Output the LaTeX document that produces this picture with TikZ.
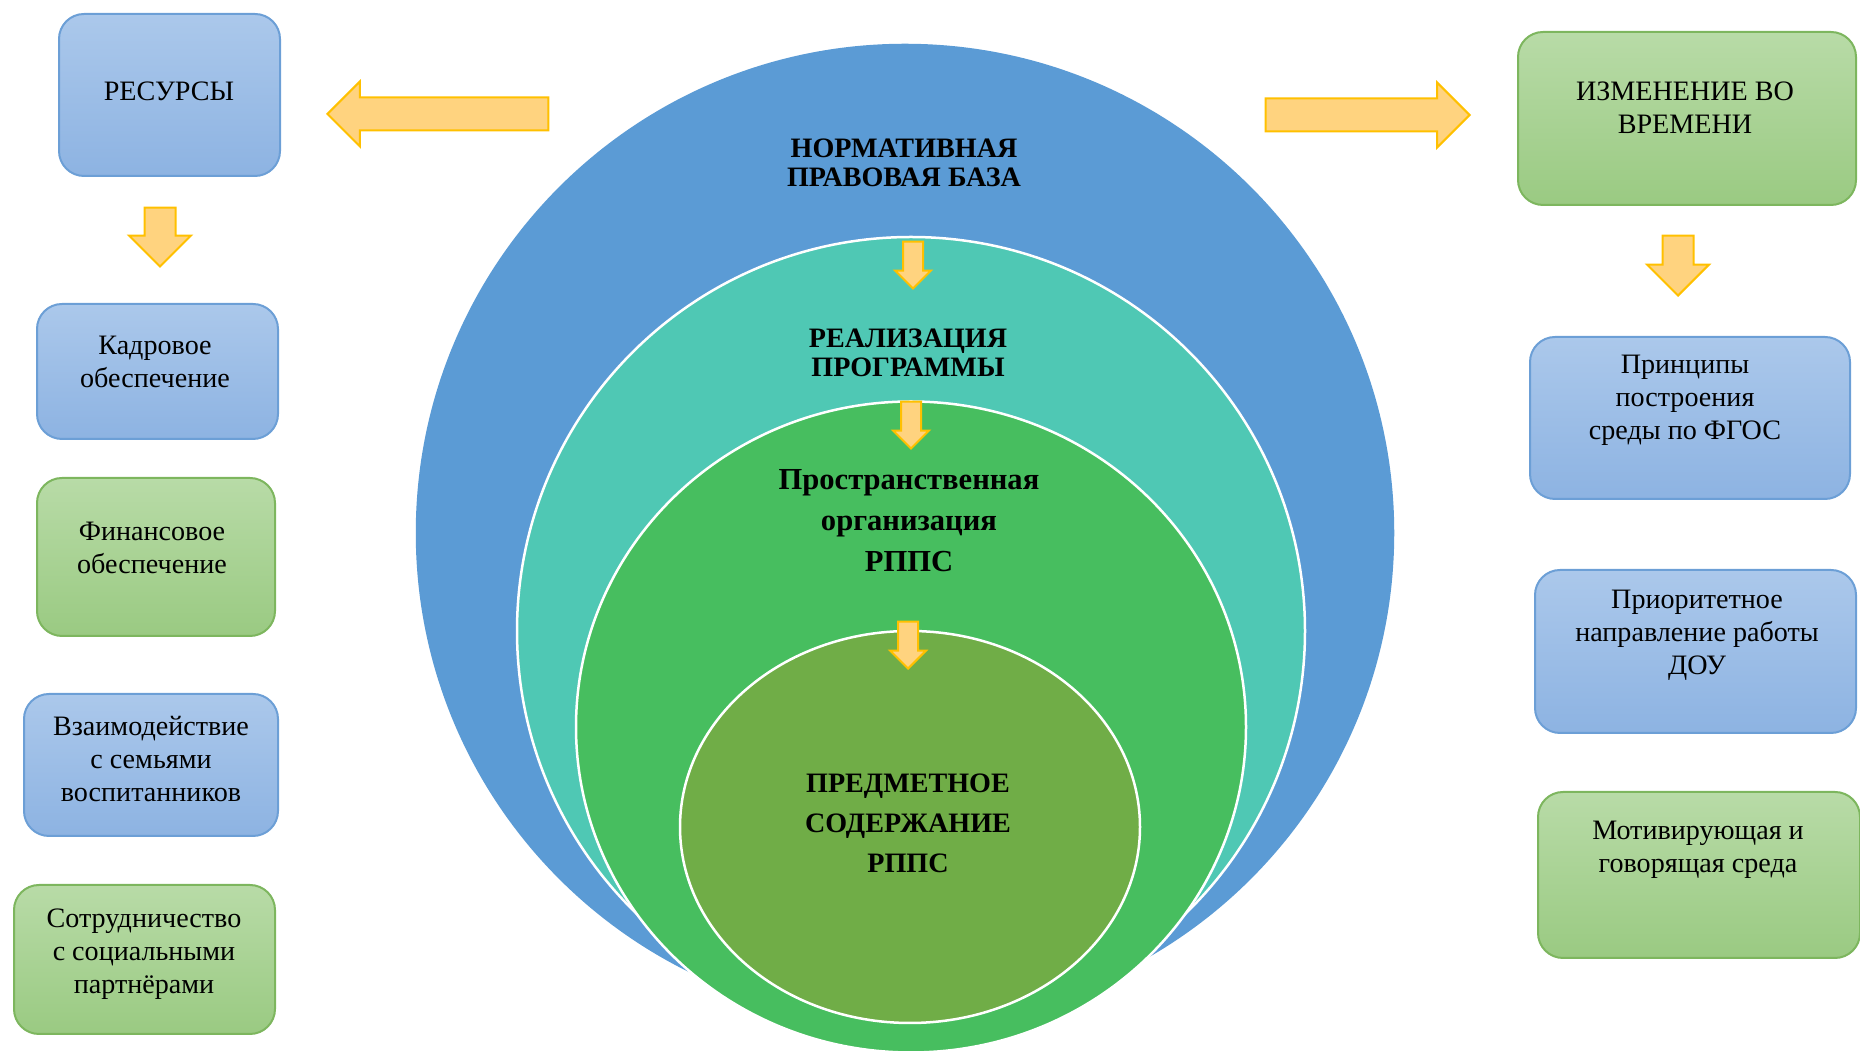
\documentclass[tikz,border=0pt]{standalone}
\usepackage{fontspec}
\setmainfont{Liberation Serif}
\usetikzlibrary{shapes.geometric,shapes.arrows}

\definecolor{blueouter}{HTML}{5B9BD5}
\definecolor{tealmid}{HTML}{4FC8B4}
\definecolor{greenin}{HTML}{47BE5F}
\definecolor{olivecore}{HTML}{70AD47}
\definecolor{arrowfill}{HTML}{FFD37F}
\definecolor{arrowline}{HTML}{FFC000}
\definecolor{bboxtop}{HTML}{ABC8EB}
\definecolor{bboxbot}{HTML}{8DB3E2}
\definecolor{bboxline}{HTML}{6C9FD6}
\definecolor{gboxtop}{HTML}{B8DBA7}
\definecolor{gboxbot}{HTML}{9ACA82}
\definecolor{gboxline}{HTML}{7DB65E}

\begin{document}
\begin{tikzpicture}[x=0.1mm,y=-0.1mm]
  \tikzstyle{ring}=[ellipse,draw=white,line width=0.25mm,inner sep=0pt]
  \tikzstyle{bluebox}=[rectangle,rounded corners=2.5mm,draw=bboxline,line width=0.2mm,top color=bboxtop,bottom color=bboxbot]
  \tikzstyle{greenbox}=[rectangle,rounded corners=2.5mm,draw=gboxline,line width=0.2mm,top color=gboxtop,bottom color=gboxbot]
  \tikzstyle{boxtext}=[align=center,inner sep=0pt,font=\fontsize{8}{9.4}\selectfont]
  \tikzstyle{ringtext}=[align=center,inner sep=0pt,font=\bfseries\fontsize{8}{8.3}\selectfont]
  \tikzstyle{bigarrow}=[single arrow,draw=arrowline,fill=arrowfill,line width=0.2mm,inner sep=0pt,text height=3.1mm,text depth=0pt,single arrow head extend=1.6mm,anchor=tip]
  \tikzstyle{smallarrow}=[bigarrow,text height=1.8mm,single arrow head extend=0.8mm,minimum height=4.7mm,rotate=-90]

  \useasboundingbox (0,0) rectangle (1860,1054);

  % nested circles
  \node[ring,draw=blueouter,fill=blueouter,minimum width=97.6mm,minimum height=97.6mm] (base) at (905,533) {};
  \node[ring,fill=tealmid,minimum width=78.8mm,minimum height=78.8mm] (prog) at (911,631) {};
  \node[ring,fill=greenin,minimum width=67mm,minimum height=65.1mm] (space) at (911,727) {};
  \node[ring,fill=olivecore,minimum width=46mm,minimum height=39.2mm] (core) at (910,827) {};

  \node[ringtext] (basetxt) at (904,163) {НОРМАТИВНАЯ\\ПРАВОВАЯ БАЗА};
  \node[ringtext] (progtxt) at (908,353) {РЕАЛИЗАЦИЯ\\ПРОГРАММЫ};
  \node[ringtext,font=\bfseries\fontsize{8.7}{11.7}\selectfont] (spacetxt) at (909,521) {Пространственная\\организация\\РППС};
  \node[ringtext,font=\bfseries\fontsize{8}{11.4}\selectfont] (coretxt) at (908,823) {ПРЕДМЕТНОЕ\\СОДЕРЖАНИЕ\\РППС};

  \node[smallarrow] (down1) at (913,290) {};
  \node[smallarrow] (down2) at (911,450) {};
  \node[smallarrow] (down3) at (908,670) {};

  % left column
  \node[bluebox,minimum width=22.1mm,minimum height=16.2mm] (res) at (169.5,95) {};
  \node[boxtext] (restxt) at (169,91) {РЕСУРСЫ};
  \node[bigarrow,rotate=180,minimum height=22.1mm] (toleft) at (326,114) {};
  \node[bigarrow,rotate=-90,minimum height=5.9mm,text height=2.9mm,single arrow head extend=1.55mm] (resdown) at (160,268) {};

  \node[bluebox,minimum width=24.1mm,minimum height=13.5mm] (kadr) at (157.5,371.5) {};
  \node[boxtext] (kadrtxt) at (155,362) {Кадровое\\обеспечение};
  \node[greenbox,minimum width=23.8mm,minimum height=15.8mm] (fin) at (156,557) {};
  \node[boxtext] (fintxt) at (152,548) {Финансовое\\обеспечение};
  \node[bluebox,minimum width=25.4mm,minimum height=14.2mm] (fam) at (151,765) {};
  \node[boxtext] (famtxt) at (151,759) {Взаимодействие\\с семьями\\воспитанников};
  \node[greenbox,minimum width=26.1mm,minimum height=14.9mm] (soc) at (144.5,959.5) {};
  \node[boxtext] (soctxt) at (144,954) {Сотрудничество\\с социальными\\партнёрами};

  % right column
  \node[greenbox,minimum width=33.8mm,minimum height=17.3mm] (time) at (1687,118.5) {};
  \node[boxtext] (timetxt) at (1685,108) {ИЗМЕНЕНИЕ ВО\\ВРЕМЕНИ};
  \node[bigarrow,minimum height=20.4mm] (toright) at (1471,115) {};
  \node[bigarrow,rotate=-90,minimum height=6mm,text height=2.9mm,single arrow head extend=1.55mm] (timedown) at (1678,297) {};

  \node[bluebox,minimum width=32mm,minimum height=16.2mm] (fgos) at (1690,418) {};
  \node[boxtext] (fgostxt) at (1685,400) {Принципы\\построения\\среды по ФГОС};
  \node[bluebox,minimum width=32.1mm,minimum height=16.3mm] (dou) at (1695.5,651.5) {};
  \node[boxtext] (doutxt) at (1697,635) {Приоритетное\\направление работы\\ДОУ};
  \node[greenbox,minimum width=32.2mm,minimum height=16.6mm] (motiv) at (1699,875) {};
  \node[boxtext] (motivtxt) at (1698,850) {Мотивирующая и\\говорящая среда};
\end{tikzpicture}
\end{document}
